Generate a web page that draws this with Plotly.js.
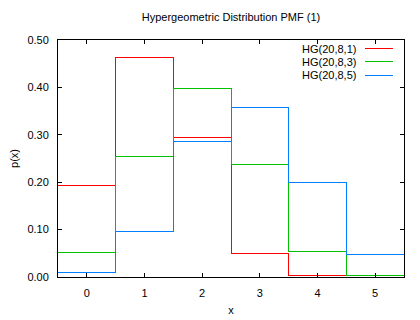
<!DOCTYPE html>
<html>
<head>
<meta charset="utf-8">
<script src="https://cdn.plot.ly/plotly-3.0.1.min.js"></script>
<style>html,body{margin:0;padding:0;background:#fff;}#chart{width:420px;height:320px;}
.scatterlayer path.js-line{shape-rendering:crispEdges;}
.layer-above path, .layer-below path{shape-rendering:crispEdges;}</style>
</head>
<body>
<div id="chart"></div>
<script>
// ---- data ----
var seriesNames = ["HG(20,8,1)", "HG(20,8,3)", "HG(20,8,5)"];
var seriesColors = ["#ff0000", "#00c000", "#0080ff"];
var xValues = [0, 1, 2, 3, 4, 5];
var hg1 = [0.193, 0.463, 0.295, 0.049, 0.003];
var hg3 = [0.051, 0.255, 0.397, 0.238, 0.054, 0.004];
var hg5 = [0.010, 0.095, 0.286, 0.358, 0.199, 0.048];
var yTickVals = [0, 0.1, 0.2, 0.3, 0.4, 0.5];
var yTickText = ["0.00", "0.10", "0.20", "0.30", "0.40", "0.50"];
var xTickVals = [0, 1, 2, 3, 4, 5];
var xTickText = ["0", "1", "2", "3", "4", "5"];

var FONT = "Liberation Sans, Arial, sans-serif";

// histeps: extend first and last by half a step
function histeps(ys) {
  var xs = [xValues[0] - 0.5], yy = [ys[0]];
  for (var i = 0; i < ys.length; i++) { xs.push(xValues[i]); yy.push(ys[i]); }
  xs.push(xValues[ys.length - 1] + 0.5); yy.push(ys[ys.length - 1]);
  return {x: xs, y: yy};
}

var allSeries = [hg1, hg3, hg5];
var traces = allSeries.map(function (ys, i) {
  var s = histeps(ys);
  return {
    x: s.x, y: s.y, type: "scatter", mode: "lines", name: seriesNames[i],
    line: {shape: "hvh", color: seriesColors[i], width: 1},
    showlegend: false
  };
});

// gnuplot-style key: right-aligned text followed by a line sample
var annotations = [], shapes = [];
seriesNames.forEach(function (nm, i) {
  var yp = 0.964 - i * 0.0565;
  annotations.push({
    xref: "paper", yref: "paper", x: 0.866, y: yp, xanchor: "right", yanchor: "middle",
    text: nm, showarrow: false, font: {family: FONT, size: 11, color: "#000"}
  });
  shapes.push({
    type: "line", xref: "paper", yref: "paper", x0: 0.887, x1: 0.968, y0: yp, y1: yp,
    line: {color: seriesColors[i], width: 1}
  });
});

var axisCommon = {
  showgrid: false, zeroline: false, showline: true, mirror: "ticks",
  linecolor: "#000", linewidth: 1, ticks: "inside", ticklen: 4, tickwidth: 1,
  tickcolor: "#000", tickfont: {family: FONT, size: 11, color: "#000"}
};

var layout = {
  width: 420, height: 320,
  margin: {l: 58, r: 16, t: 40, b: 43},
  paper_bgcolor: "#fff", plot_bgcolor: "#fff",
  title: {text: "Hypergeometric Distribution PMF (1)", x: 0.55, xanchor: "center", y: 0.945, yanchor: "middle",
          font: {family: FONT, size: 11, color: "#000"}},
  showlegend: false,
  annotations: annotations,
  shapes: shapes
};
layout.xaxis = Object.assign({}, axisCommon, {
  range: [-0.5, 5.5], tickvals: xTickVals, ticktext: xTickText, ticklabelstandoff: 6,
  title: {text: "x", font: {family: FONT, size: 11, color: "#000"}, standoff: 8}
});
layout.yaxis = Object.assign({}, axisCommon, {
  range: [0, 0.5], tickvals: yTickVals, ticktext: yTickText, ticklabelstandoff: 6,
  title: {text: "p(x)", font: {family: FONT, size: 11, color: "#000"}, standoff: 6}
});

Plotly.newPlot("chart", traces, layout, {displayModeBar: false, staticPlot: true});
</script>
</body>
</html>
